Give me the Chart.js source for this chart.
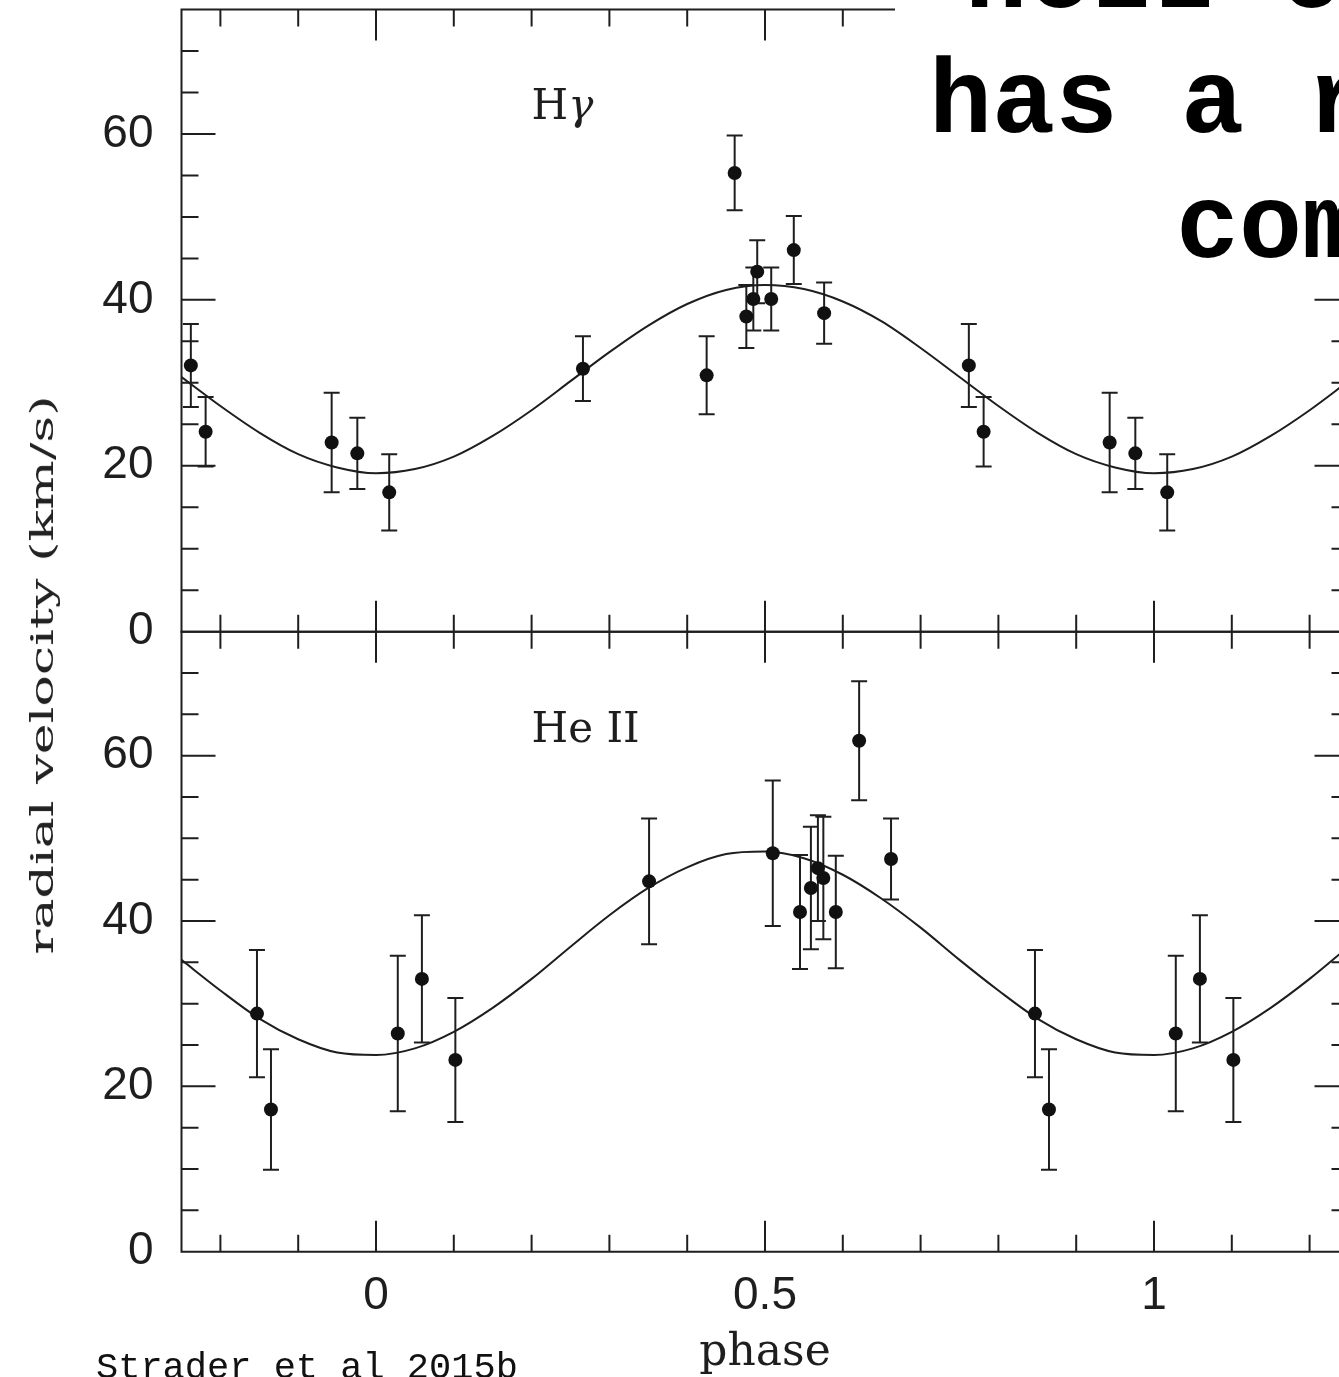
<!DOCTYPE html>
<html>
<head>
<meta charset="utf-8">
<script src="https://cdn.jsdelivr.net/npm/chart.js@4"></script>
<style>
  html, body { margin: 0; padding: 0; overflow: hidden; background: #fff; }
  body { position: relative; width: 1339px; height: 1377px; }
  canvas { position: absolute; left: 0; top: 0; }
  #ytitle {
    position: absolute; left: -251px; top: 650px; width: 600px; height: 50px;
    line-height: 50px; text-align: center; white-space: pre;
    font: 31px "DejaVu Serif", serif; color: #222;
    transform: rotate(-90deg);
  }
  #note {
    position: absolute; left: 895px; top: 0; width: 460px; height: 280px;
    background: #fff; overflow: hidden;
  }
  #note div {
    position: absolute; white-space: pre; color: #000;
    font: bold 105px "Liberation Mono", monospace; line-height: 125px;
  }
  #credit {
    position: absolute; left: 96px; top: 1348px; white-space: pre;
    font: 37px "Liberation Mono", monospace; line-height: 40px; color: #111;
  }
</style>
</head>
<body>
<canvas id="topPanel" width="1360" height="1400"></canvas>
<canvas id="bottomPanel" width="1360" height="1400"></canvas>
<div id="ytitle"><span>radial velocity (km/s)</span></div>
<div id="note">
  <div style="left:70px; top:-83px">HeII c</div>
  <div style="left:34px; top:42px">has a r</div>
  <div style="left:281px; top:167px">com</div>
</div>
<div id="credit">Strader et al 2015b</div>

<script>
  var ink = '#1e1e1e';

  // axes
  var phaseMin = -0.25, phaseMax = 1.25;
  var velMin = 0, velMax = 75;
  var xTickLabels = [0, 0.5, 1];
  var yTickLabels = [0, 20, 40, 60];

  // H gamma velocities, folded phase 0..1
  var hgPhase = [0.017, 0.266, 0.425, 0.461, 0.476, 0.485, 0.490, 0.508, 0.537, 0.576, 0.762, 0.781, 0.943, 0.976];
  var hgVel   = [16.8, 31.7, 30.9, 55.3, 38.0, 40.1, 43.4, 40.1, 46.0, 38.4, 32.1, 24.1, 22.8, 21.5];
  var hgErr   = [4.6, 3.9, 4.7, 4.5, 3.8, 3.8, 3.8, 3.8, 4.1, 3.7, 5.0, 4.2, 6.0, 4.3];

  // He II velocities, folded phase 0..1
  var hePhase = [0.028, 0.059, 0.102, 0.351, 0.510, 0.545, 0.559, 0.568, 0.575, 0.591, 0.621, 0.662, 0.847, 0.865];
  var heVel   = [26.4, 33.0, 23.2, 44.8, 48.2, 41.1, 44.0, 46.4, 45.2, 41.1, 61.8, 47.5, 28.8, 17.2];
  var heErr   = [9.4, 7.7, 7.5, 7.6, 8.8, 6.9, 7.4, 6.4, 7.4, 6.8, 7.2, 4.9, 7.7, 7.3];

  // fitted curves, every 0.05 in phase
  var curvePhase = [-0.25, -0.2, -0.15, -0.1, -0.05, 0, 0.05, 0.1, 0.15, 0.2, 0.25, 0.3, 0.35, 0.4, 0.45, 0.5,
                    0.55, 0.6, 0.65, 0.7, 0.75, 0.8, 0.85, 0.9, 0.95, 1, 1.05, 1.1, 1.15, 1.2, 1.25];
  var hgFit = [30.7, 27.2, 24.0, 21.4, 19.8, 19.1, 19.6, 21.1, 23.6, 26.7, 30.2, 33.7, 36.9, 39.5, 41.2, 41.8,
               41.3, 39.8, 37.4, 34.2, 30.7, 27.2, 24.0, 21.4, 19.8, 19.1, 19.6, 21.1, 23.6, 26.7, 30.2];
  var heFit = [35.3, 31.6, 28.2, 25.7, 24.1, 23.8, 24.6, 26.6, 29.5, 33.0, 36.9, 40.7, 44.0, 46.5, 48.1, 48.4,
               47.6, 45.6, 42.7, 39.2, 35.3, 31.6, 28.2, 25.7, 24.1, 23.8, 24.6, 26.6, 29.5, 33.0, 36.9];

  // plot each measurement in every cycle that falls inside the phase window
  function foldPoints(phase, vel, err) {
    var pts = [];
    phase.forEach(function (p, i) {
      [-1, 0, 1].forEach(function (k) {
        var x = p + k;
        if (x >= phaseMin && x <= phaseMax) pts.push({x: x, y: vel[i], err: err[i]});
      });
    });
    return pts;
  }

  // box with inward ticks on all four sides
  var framePlugin = {
    id: 'frame',
    afterDraw: function (chart) {
      var ctx = chart.ctx, a = chart.chartArea, x = chart.scales.x, y = chart.scales.y;
      ctx.save();
      ctx.strokeStyle = ink;
      ctx.lineWidth = 2;
      ctx.beginPath();
      ctx.rect(a.left, a.top, a.right - a.left, a.bottom - a.top);
      for (var i = -2; i <= 12; i++) {
        var px = x.getPixelForValue(i / 10);
        var len = (i % 5 === 0) ? 31 : 17;
        ctx.moveTo(px, a.top); ctx.lineTo(px, a.top + len);
        ctx.moveTo(px, a.bottom); ctx.lineTo(px, a.bottom - len);
      }
      for (var j = 1; j < 15; j++) {
        var v = j * 5;
        var py = y.getPixelForValue(v);
        var l = (v % 20 === 0) ? 34 : 17;
        ctx.moveTo(a.left, py); ctx.lineTo(a.left + l, py);
        ctx.moveTo(a.right, py); ctx.lineTo(a.right - l, py);
      }
      ctx.stroke();
      ctx.restore();
    }
  };

  var errorBarPlugin = {
    id: 'errorBars',
    beforeDatasetsDraw: function (chart) {
      var ctx = chart.ctx, a = chart.chartArea, x = chart.scales.x, y = chart.scales.y;
      ctx.save();
      ctx.beginPath();
      ctx.rect(a.left, a.top, a.right - a.left, a.bottom - a.top);
      ctx.clip();
      ctx.strokeStyle = ink;
      ctx.lineWidth = 2;
      ctx.beginPath();
      chart.data.datasets.forEach(function (ds) {
        if (ds.type !== 'scatter') return;
        ds.data.forEach(function (pt) {
          var px = x.getPixelForValue(pt.x);
          var hi = y.getPixelForValue(pt.y + pt.err);
          var lo = y.getPixelForValue(pt.y - pt.err);
          ctx.moveTo(px, hi); ctx.lineTo(px, lo);
          ctx.moveTo(px - 8, hi); ctx.lineTo(px + 8, hi);
          ctx.moveTo(px - 8, lo); ctx.lineTo(px + 8, lo);
        });
      });
      ctx.stroke();
      ctx.restore();
    }
  };

  var labelPlugin = {
    id: 'panelLabel',
    afterDatasetsDraw: function (chart, args, o) {
      var ctx = chart.ctx;
      var px = chart.scales.x.getPixelForValue(o.at[0]);
      var py = chart.scales.y.getPixelForValue(o.at[1]);
      ctx.save();
      ctx.fillStyle = ink;
      ctx.textBaseline = 'alphabetic';
      for (var i = 0; i < o.parts.length; i++) {
        ctx.font = o.parts[i].font;
        ctx.fillText(o.parts[i].text, px, py);
        px += ctx.measureText(o.parts[i].text).width;
      }
      ctx.restore();
    }
  };

  function makePanel(id, fit, points, label, isBottom) {
    var xScale = {
      type: 'linear', min: phaseMin, max: phaseMax, display: isBottom,
      grid: {display: false, drawTicks: false},
      border: {display: false},
      ticks: {color: ink, font: {family: 'Liberation Sans', size: 46}, padding: 17, maxRotation: 0, autoSkip: false,
              callback: function (v) { return String(v); }},
      title: {display: true, text: 'phase', color: ink, font: {family: 'DejaVu Serif', size: 44},
              padding: {top: 0, bottom: 20}},
      afterBuildTicks: function (s) { s.ticks = xTickLabels.map(function (v) { return {value: v}; }); },
      afterFit: function (s) {
        if (isBottom) s.height = 148.3;
        s.paddingLeft = 0; s.paddingRight = 0;
      }
    };
    return new Chart(document.getElementById(id), {
      data: {
        datasets: [
          {type: 'line', data: curvePhase.map(function (p, i) { return {x: p, y: fit[i]}; }),
           borderColor: ink, borderWidth: 2, pointRadius: 0, cubicInterpolationMode: 'monotone', order: 2},
          {type: 'scatter', data: points, backgroundColor: '#111', borderWidth: 0, pointRadius: 7, order: 1}
        ]
      },
      options: {
        responsive: false,
        animation: false,
        events: [],
        layout: {padding: isBottom ? {left: 0, top: 631.7, right: 11.5, bottom: 0}
                                   : {left: 0, top: 9.5, right: 11.5, bottom: 768.3}},
        plugins: {legend: {display: false}, tooltip: {enabled: false}, panelLabel: label},
        scales: {
          x: xScale,
          y: {
            type: 'linear', min: velMin, max: velMax, position: 'left',
            grid: {display: false, drawTicks: false},
            border: {display: false},
            ticks: {color: ink, font: {family: 'Liberation Sans', size: 46}, padding: 28},
            afterBuildTicks: function (s) { s.ticks = yTickLabels.map(function (v) { return {value: v}; }); },
            afterFit: function (s) { s.width = 181.5; s.paddingTop = 0; s.paddingBottom = 0; }
          }
        }
      },
      plugins: [errorBarPlugin, labelPlugin, framePlugin]
    });
  }

  makePanel('topPanel', hgFit, foldPoints(hgPhase, hgVel, hgErr),
    {at: [0.2, 61.8], parts: [{text: 'H', font: '42px "DejaVu Serif"'}, {text: 'γ', font: 'italic 42px "DejaVu Serif"'}]},
    false);
  makePanel('bottomPanel', heFit, foldPoints(hePhase, heVel, heErr),
    {at: [0.2, 61.7], parts: [{text: 'He II', font: '42px "DejaVu Serif"'}]},
    true);

  // stretch the axis title along its length to the width it has in the figure
  var yt = document.getElementById('ytitle');
  var span = yt.firstChild;
  yt.style.transform = 'rotate(-90deg) scaleX(' + (560 / span.offsetWidth).toFixed(3) + ')';
</script>
</body>
</html>
